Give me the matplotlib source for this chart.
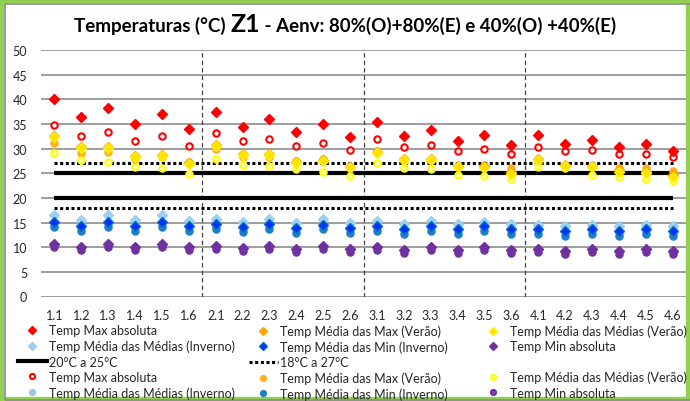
import numpy as np
import matplotlib
matplotlib.use("Agg")
import matplotlib.pyplot as plt
from matplotlib.lines import Line2D
from matplotlib.patches import Rectangle

plt.rcParams['font.family'] = ['Lato', 'DejaVu Sans']

cats = ['1.1', '1.2', '1.3', '1.4', '1.5', '1.6',
        '2.1', '2.2', '2.3', '2.4', '2.5', '2.6',
        '3.1', '3.2', '3.3', '3.4', '3.5', '3.6',
        '4.1', '4.2', '4.3', '4.4', '4.5', '4.6']

# 80%(O)+80%(E) -> diamonds
max_abs_80 = [40.0, 36.4, 38.3, 35.0, 37.1, 33.9, 37.4, 34.4, 36.0, 33.3, 34.9, 32.3,
              35.4, 32.6, 33.7, 31.6, 32.8, 30.8, 32.7, 31.0, 31.7, 30.3, 30.9, 29.6]
med_max_ver_80 = [32.6, 30.3, 30.3, 28.4, 28.8, 27.1, 30.7, 29.0, 29.0, 27.3, 27.7, 26.3,
                  29.4, 27.8, 27.9, 26.5, 26.4, 25.2, 27.8, 26.7, 26.4, 25.6, 25.3, 24.6]
med_med_ver_80 = [32.4, 30.1, 30.1, 28.2, 28.6, 26.8, 30.5, 28.8, 28.7, 27.1, 27.4, 26.0,
                  29.2, 27.6, 27.6, 26.3, 26.1, 24.9, 27.6, 26.5, 26.2, 25.3, 25.0, 24.3]
med_med_inv_80 = [16.5, 15.5, 16.5, 15.5, 16.5, 15.4, 15.8, 15.1, 15.8, 15.0, 15.8, 15.0,
                  15.3, 14.8, 15.3, 14.7, 15.2, 14.7, 14.6, 14.3, 14.6, 14.2, 14.6, 14.2]
med_min_inv_80 = [15.2, 14.3, 15.2, 14.3, 15.2, 14.3, 14.7, 14.0, 14.7, 13.9, 14.6, 13.9,
                  14.4, 13.7, 14.3, 13.6, 14.2, 13.6, 13.7, 13.3, 13.7, 13.2, 13.6, 13.2]
min_abs_80 = [10.6, 10.1, 10.6, 10.0, 10.6, 10.0, 10.3, 9.8, 10.3, 9.7, 10.2, 9.7,
              10.0, 9.5, 10.0, 9.4, 10.0, 9.4, 9.6, 9.3, 9.6, 9.2, 9.6, 9.2]

# 40%(O)+40%(E) -> circles
max_abs_40 = [34.7, 32.5, 33.4, 31.5, 32.5, 30.6, 33.1, 31.5, 32.0, 30.5, 31.2, 29.7,
              31.9, 30.4, 30.7, 29.6, 29.9, 28.9, 30.3, 29.6, 29.7, 28.9, 28.9, 28.2]
med_max_ver_40 = [31.2, 29.2, 29.4, 27.8, 28.2, 27.3, 29.9, 28.2, 28.2, 27.4, 27.8, 26.5,
                  29.6, 27.4, 27.6, 26.5, 26.4, 26.0, 27.2, 26.5, 26.3, 26.1, 26.0, 25.5]
med_med_ver_40 = [29.1, 27.6, 27.3, 26.2, 26.1, 24.8, 27.9, 26.6, 26.4, 25.8, 25.3, 24.4,
                  27.1, 26.1, 25.8, 24.7, 24.4, 23.9, 26.2, 26.1, 24.7, 24.3, 23.9, 23.5]
med_med_inv_40 = [14.5, 13.8, 14.5, 13.8, 14.5, 13.7, 14.2, 13.5, 14.1, 13.4, 14.1, 13.4,
                  13.8, 13.2, 13.8, 13.1, 13.7, 13.1, 13.2, 12.8, 13.2, 12.7, 13.1, 12.7]
med_min_inv_40 = [14.0, 13.3, 14.0, 13.2, 14.0, 13.2, 13.6, 13.0, 13.6, 12.9, 13.6, 12.9,
                  13.3, 12.7, 13.3, 12.6, 13.2, 12.6, 12.7, 12.3, 12.7, 12.2, 12.6, 12.2]
min_abs_40 = [10.0, 9.5, 10.0, 9.4, 10.0, 9.4, 9.7, 9.2, 9.7, 9.1, 9.6, 9.1,
              9.4, 8.9, 9.4, 8.8, 9.4, 8.8, 9.0, 8.7, 9.0, 8.6, 9.0, 8.6]

comfort_band = [20, 25]
wide_band = [18, 27]
group_size = 6

x = np.arange(len(cats))
n = len(cats)

fig = plt.figure(figsize=(6.9, 4.02), dpi=100)
ax = fig.add_axes([41 / 690, 1 - 297.5 / 402, 645 / 690, 246.5 / 402])

# reference bands
for v in comfort_band:
    ax.plot(x, [v] * n, color='black', lw=3.0, solid_capstyle='butt', zorder=2)
for v in wide_band:
    ax.plot(x, [v] * n, color='black', lw=2.2, ls=(0, (1, 0.85)), zorder=2)
h_comf = Line2D([], [], color='black', lw=3.0)
h_wide = Line2D([], [], color='black', lw=2.2, ls=(0, (1, 0.85)))

# block separators
for b in range(group_size, n, group_size):
    ax.axvline(b - 0.5, color='#404040', lw=0.9, ls=(0, (3.5, 2.5)), zorder=1)

dstyle = dict(ls='none', marker='D', ms=5.0, zorder=4)
h1 = ax.plot(x, max_abs_80, color='#FF0000', **dstyle)[0]
h2 = ax.plot(x, med_max_ver_80, color='#FFA500', **dstyle)[0]
h3 = ax.plot(x, med_med_ver_80, color='#FFE000', mec='#FFF200', **dstyle)[0]
h4 = ax.plot(x, med_med_inv_80, color='#9DD0EE', **dstyle)[0]
h5 = ax.plot(x, med_min_inv_80, color='#0070C0', mfc='#0030FF', **dstyle)[0]
h6 = ax.plot(x, min_abs_80, color='#7030A0', **dstyle)[0]

cstyle = dict(ls='none', marker='o', ms=4.6, mew=1.5, zorder=3)
c1 = ax.plot(x, max_abs_40, color='#FF0000', mfc='white', **cstyle)[0]
c2 = ax.plot(x, med_max_ver_40, color='#FFB020', **cstyle)[0]
c3 = ax.plot(x, med_med_ver_40, color='#FFFF00', mfc='#FFFFCC', **cstyle)[0]
c4 = ax.plot(x, med_med_inv_40, color='#9DC3E6', **cstyle)[0]
c5 = ax.plot(x, med_min_inv_40, color='#1F7FC8', **cstyle)[0]
c6 = ax.plot(x, min_abs_40, color='#7030A0', mfc='#8050B0', **cstyle)[0]

ax.set_xlim(-0.5, n - 0.5)
ax.set_ylim(0, 50)
ax.set_yticks(np.arange(0, 51, 5))
ax.set_xticks(x, cats)
ax.tick_params(length=0, labelsize=9, colors='#262626')
ax.tick_params(axis='x', pad=9)
ax.tick_params(axis='y', pad=10)
ax.grid(axis='y', color='#8C8C8C', lw=1.2)
ax.set_axisbelow(True)
for s in ax.spines.values():
    s.set_visible(False)

# legend in three fixed columns
blank = Line2D([], [], ls='none')
cols = [
    ([h1, h4, h_comf, c1, c4],
     ['Temp Max absoluta', 'Temp Média das Médias (Inverno)', '20°C a 25°C',
      'Temp Max absoluta', 'Temp Média das Médias (Inverno)'], 18),
    ([h2, h5, h_wide, c2, c5],
     ['Temp Média das Max (Verão)', 'Temp Média das Min (Inverno)', '18°C a 27°C',
      'Temp Média das Max (Verão)', 'Temp Média das Min (Inverno)'], 249),
    ([h3, h6, blank, c3, c6],
     ['Temp Média das Médias (Verão)', 'Temp Min absoluta', ' ',
      'Temp Média das Médias (Verão)', 'Temp Min absoluta'], 479),
]
for handles, labels, x0 in cols:
    fig.legend(handles, labels, loc='upper left', bbox_to_anchor=(x0 / 690, 1 - 325.5 / 402),
               frameon=False, fontsize=9, handlelength=2.3, handletextpad=0.2,
               labelspacing=0.26, borderpad=0, borderaxespad=0, markerscale=0.8,
               labelcolor='#262626')

# title: "Z1" set larger than the rest
title_parts = [('Temperaturas (°C) ', 13.5), ('Z1', 18), (' - Aenv: 80%(O)+80%(E) e 40%(O) +40%(E)', 13.5)]
texts = [fig.text(0, 1 - 32 / 402, s, fontsize=fs, fontweight='bold', ha='left', va='baseline')
         for s, fs in title_parts]
r = fig.canvas.get_renderer()
widths = [t.get_window_extent(r).width / fig.bbox.width for t in texts]
pos = 0.5 - sum(widths) / 2
for t, w in zip(texts, widths):
    t.set_x(pos)
    pos += w

# chart frame
fig.patches.append(Rectangle((0, 0), 1, 1, transform=fig.transFigure, fill=False,
                             edgecolor='#92D050', lw=6))
fig.patches.append(Rectangle((4.5 / 690, 1.5 / 402), 1, 1 - 6 / 402, transform=fig.transFigure,
                             fill=False, edgecolor='#8C8C8C', lw=1.2))

fig.savefig('out.png', dpi=100)
